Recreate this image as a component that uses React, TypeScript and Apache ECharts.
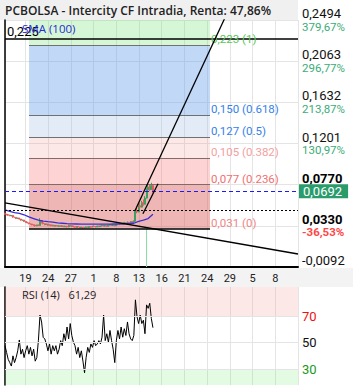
import React, { useEffect, useRef } from 'react';
import * as echarts from 'echarts';

const title = 'PCBOLSA - Intercity CF Intradia, Renta: 47,86%';
const dateLabels = ['19', '24', '27', '1', '8', '13', '16', '21', '24', '29', '5', '8'];
const slotCount = 130;
const firstLabelSlot = 9;
const slotStep = 10;

const priceTicks = [-0.0092, 0.0339, 0.077, 0.1201, 0.1632, 0.2063, 0.2494];
const priceLabels = ['-0,0092', '0,0330', '0,0770', '0,1201', '0,1632', '0,2063', '0,2494'];
const pctLabels = ['', '-36,53%', '', '130,97%', '213,87%', '296,77%', '379,67%'];
const boldTicks = [false, true, true, false, false, false, false];

// [open, close, low, high]
const candles = [
  [0.047, 0.046, 0.0455, 0.0475], [0.046, 0.0455, 0.045, 0.0465], [0.0455, 0.045, 0.0445, 0.046], [0.045, 0.0445, 0.044, 0.0455],
  [0.0445, 0.0448, 0.0438, 0.0452], [0.0448, 0.043, 0.0425, 0.045], [0.043, 0.0428, 0.042, 0.0435], [0.0428, 0.0415, 0.041, 0.043],
  [0.0415, 0.042, 0.041, 0.0425], [0.042, 0.041, 0.0405, 0.0422], [0.041, 0.0398, 0.0392, 0.0412], [0.0398, 0.04, 0.039, 0.0405],
  [0.04, 0.0385, 0.038, 0.0402], [0.0385, 0.0378, 0.037, 0.039], [0.0378, 0.037, 0.0365, 0.038], [0.037, 0.0362, 0.0355, 0.0372],
  [0.0362, 0.0358, 0.035, 0.0365], [0.0358, 0.035, 0.0345, 0.036], [0.035, 0.0345, 0.034, 0.0352], [0.0345, 0.034, 0.0332, 0.0348],
  [0.034, 0.0348, 0.0335, 0.035], [0.0348, 0.0342, 0.0338, 0.0352], [0.0342, 0.0395, 0.034, 0.042], [0.0395, 0.037, 0.0365, 0.04],
  [0.037, 0.036, 0.0355, 0.0375], [0.036, 0.0352, 0.0345, 0.0365], [0.0352, 0.0358, 0.035, 0.0362], [0.0358, 0.0345, 0.034, 0.036],
  [0.0345, 0.035, 0.034, 0.0355], [0.035, 0.034, 0.0335, 0.0352], [0.034, 0.0345, 0.0335, 0.035], [0.0345, 0.0338, 0.033, 0.0348],
  [0.0338, 0.0342, 0.0332, 0.0346], [0.0342, 0.0335, 0.033, 0.0345], [0.0335, 0.034, 0.0328, 0.0345], [0.034, 0.0333, 0.0328, 0.0342],
  [0.0333, 0.0338, 0.033, 0.0342], [0.0338, 0.033, 0.0325, 0.034], [0.033, 0.0335, 0.0325, 0.0338], [0.0335, 0.0328, 0.0322, 0.0338],
  [0.0328, 0.0345, 0.0325, 0.0352], [0.0345, 0.0335, 0.033, 0.0348], [0.0335, 0.0338, 0.0328, 0.0342], [0.0338, 0.033, 0.0325, 0.034],
  [0.033, 0.0325, 0.032, 0.0332], [0.0325, 0.0332, 0.032, 0.0335], [0.0332, 0.0326, 0.032, 0.0335], [0.0326, 0.032, 0.0315, 0.0328],
  [0.032, 0.0324, 0.0315, 0.0328], [0.0324, 0.0318, 0.0312, 0.0326], [0.0318, 0.0322, 0.0312, 0.0325], [0.0322, 0.0328, 0.0318, 0.0332],
  [0.0328, 0.0322, 0.0318, 0.033], [0.0322, 0.033, 0.032, 0.0335], [0.033, 0.0325, 0.032, 0.0333], [0.0325, 0.0335, 0.0322, 0.034],
  [0.0335, 0.0332, 0.0326, 0.0342], [0.0332, 0.0328, 0.0322, 0.0336], [0.0328, 0.0336, 0.0325, 0.034], [0.0336, 0.033, 0.0326, 0.034],
  [0.033, 0.0338, 0.0328, 0.0342], [0.0338, 0.0345, 0.0332, 0.035], [0.0345, 0.0336, 0.0332, 0.0348], [0.0336, 0.0342, 0.0332, 0.0346],
  [0.0342, 0.0335, 0.033, 0.0345], [0.0335, 0.0345, 0.0332, 0.035], [0.0345, 0.035, 0.034, 0.0358], [0.035, 0.0342, 0.0338, 0.0355],
  [0.0342, 0.0348, 0.0338, 0.0352], [0.0348, 0.034, 0.0335, 0.035], [0.034, 0.0355, 0.0338, 0.036], [0.0355, 0.035, 0.0345, 0.036],
  [0.035, 0.036, 0.0346, 0.0365], [0.036, 0.0352, 0.0348, 0.0365], [0.0352, 0.0365, 0.035, 0.037], [0.0365, 0.0372, 0.036, 0.038],
  [0.0372, 0.0362, 0.0358, 0.0376], [0.0362, 0.0375, 0.036, 0.0385], [0.0375, 0.037, 0.0365, 0.038], [0.037, 0.0382, 0.0366, 0.0388],
  [0.0382, 0.0378, 0.037, 0.039], [0.0378, 0.039, 0.0372, 0.0395], [0.039, 0.05, 0.0385, 0.0515], [0.05, 0.0485, 0.047, 0.0525],
  [0.0485, 0.055, 0.048, 0.057], [0.055, 0.0535, 0.052, 0.058], [0.0535, 0.058, 0.053, 0.06], [0.058, 0.0565, 0.055, 0.0615],
  [0.0565, 0.063, 0.056, 0.065], [0.063, 0.0715, 0.0625, 0.073], [0.0715, 0.0745, 0.07, 0.077], [0.0745, 0.072, 0.0705, 0.0775],
  [0.072, 0.076, 0.0715, 0.079], [0.076, 0.0692, 0.0685, 0.0775],
];

const smaStep = 3;
const sma100 = [
  0.0507, 0.049, 0.0478, 0.0469, 0.0455, 0.0432, 0.0415, 0.0398, 0.0388, 0.0382, 0.0378, 0.037, 0.0366, 0.0362, 0.0359, 0.0358,
  0.0357, 0.0356, 0.0356, 0.0356, 0.0356, 0.0356, 0.0357, 0.0358, 0.0359, 0.0361, 0.0362, 0.0366, 0.0385, 0.0398, 0.0415, 0.0461,
];

const rsi14 = [
  47.7, 42.6, 37.4, 34.9, 32.3, 40, 34.9, 38.7, 43.8, 52,
  41.3, 45, 38.7, 43.8, 47.7, 41.3, 46.4, 40, 45, 36,
  38.7, 51.5, 70.8, 65.6, 54, 52.8, 49, 43.8, 49, 41.3,
  47.7, 43.8, 47.7, 41.3, 45, 51.5, 47.7, 56.7, 51.5, 61.8,
  52.8, 64.4, 55.4, 50.3, 47.7, 41.3, 46.4, 38.7, 43.8, 36,
  27.2, 38.7, 46.4, 42.6, 49, 46.4, 51.5, 47.7, 49, 51.5,
  49, 54.1, 70.8, 51.5, 56.7, 50.3, 59.2, 51.5, 45, 34.9,
  51.5, 59.2, 52.8, 61.8, 54.1, 60.5, 55.4, 65.6, 56.7, 52.8,
  51.5, 55.4, 82.3, 69.5, 64.4, 70.8, 64.4, 66.9, 56.7, 78.5,
  75.9, 79.7, 68.2, 61.299,
];
const rsiLevels = [30, 50, 70];
const rsiLevelColors = ['#1a9a1a', '#111111', '#ee1111'];

const volume = [[89, 15.4]];

const lastPrice = 0.0692;
const prevClose = 0.0468;
const levelLine = 0.225;

const fibLevels = [0.031, 0.077, 0.105, 0.127, 0.15, 0.223];
const fibRatios = ['0', '0.236', '0.382', '0.5', '0.618', '1'];
const fibStartBar = 15.1;
const fibEndBar = 128.9;
const fibLabelColors = ['#ef8585', '#f07070', '#f5a0a0', '#3582ea', '#3582ea', '#58c858'];
const fibLineColors = ['#000000', '#806a6a', '#806a6a', '#707070', '#707070', '#707070'];
const fibZoneColors = [
  'rgba(219,93,93,0.45)', 'rgba(248,108,108,0.3)', 'rgba(245,140,140,0.2)',
  'rgba(162,188,228,0.3)', 'rgba(102,157,235,0.4)', 'rgba(115,228,115,0.3)',
];

const trendDown = [[0, 0.058], [184.2, 0.0044]];
const channelA = [[81.7, 0.0496], [140.6, 0.26]];
const channelB = [[86.7, 0.0465], [96.2, 0.078]];

const X_MAX = 184.2;
const Y_MIN = -0.0092;
const Y_MAX = 0.2494;
const Y_STEP = 0.0431;
const RSI_MIN = 18;
const RSI_MAX = 92;

const fmt = (v: number, d: number) => v.toFixed(d).replace('.', ',');
const fmtTrunc = (v: number, d: number) => fmt(Math.floor(v * 10 ** d) / 10 ** d, d);

export default function App() {
  const ref = useRef<HTMLDivElement>(null);
  useEffect(() => {
    if (!ref.current) return;
    const chart = echarts.init(ref.current, undefined, { renderer: 'svg' });
    const cats = Array.from({ length: slotCount }, (_, i) => String(i));
    const isGrid = (i: number) => i === 0 || (i >= firstLabelSlot && (i - firstLabelSlot) % slotStep === 0);
    const labelFor = (i: number) => {
      if (i < firstLabelSlot || (i - firstLabelSlot) % slotStep !== 0) return '';
      return dateLabels[(i - firstLabelSlot) / slotStep] ?? '';
    };
    const nearestTick = (v: number) => {
      let best = 0;
      priceTicks.forEach((t, j) => { if (Math.abs(t - v) < Math.abs(priceTicks[best] - v)) best = j; });
      return best;
    };
    const gridColor = '#e4e4e4';
    const fibZones = fibLevels.map((lo, k) => [
      { xAxis: fibStartBar, yAxis: lo, itemStyle: { color: fibZoneColors[k] } },
      { xAxis: fibEndBar, yAxis: k < fibLevels.length - 1 ? fibLevels[k + 1] : Y_MAX },
    ]);
    const fibLines = fibLevels.map((lv, k) => [
      {
        coord: [fibStartBar, lv],
        lineStyle: { color: fibLineColors[k], width: k === 0 ? 1.5 : 1, type: 'solid' },
        label: {
          show: true, position: 'end', distance: 1, align: 'left', verticalAlign: 'bottom',
          color: fibLabelColors[k], fontSize: 11.5, fontFamily: 'Roboto',
          formatter: `${fmt(lv, 3)} (${fibRatios[k]})`,
        },
      },
      { coord: [fibEndBar, lv] },
    ]);
    const rsiLast = rsi14[rsi14.length - 1];

    chart.setOption({
      animation: false,
      backgroundColor: '#ffffff',
      textStyle: { fontFamily: 'Roboto' },
      grid: [
        { left: 5, top: 20, width: 293, height: 247 },
        { left: 5, top: 287, width: 293, height: 98 },
      ],
      xAxis: [
        { type: 'value', gridIndex: 0, min: 0, max: X_MAX, show: false, position: 'bottom' },
        {
          type: 'category', gridIndex: 0, data: cats, boundaryGap: false, position: 'bottom',
          axisLine: { show: true, lineStyle: { color: '#000', width: 2 } },
          axisTick: { show: false },
          axisLabel: {
            interval: (i: number) => labelFor(i) !== '', formatter: (_v: string, i: number) => labelFor(i),
            color: '#222', fontSize: 11, margin: 6, fontFamily: 'Roboto',
          },
          splitLine: { show: true, interval: (i: number) => isGrid(i), lineStyle: { color: gridColor, width: 1 } },
        },
        { type: 'value', gridIndex: 1, min: 0, max: X_MAX, show: false, position: 'bottom' },
        {
          type: 'category', gridIndex: 1, data: cats, boundaryGap: false, position: 'bottom',
          axisLine: { show: false }, axisTick: { show: false }, axisLabel: { show: false },
          splitLine: { show: true, interval: (i: number) => isGrid(i), lineStyle: { color: gridColor, width: 1 } },
        },
      ],
      yAxis: [
        {
          type: 'value', gridIndex: 0, position: 'right', min: Y_MIN, max: Y_MAX, interval: Y_STEP,
          axisLine: { show: true, lineStyle: { color: '#000', width: 1.5 } },
          axisTick: { show: false },
          splitLine: { show: true, lineStyle: { color: gridColor, width: 1 } },
          axisLabel: {
            margin: 4,
            formatter: (v: number) => {
              const j = nearestTick(v);
              const pct = pctLabels[j];
              const pStyle = boldTicks[j] ? 'pb' : 'p';
              const qStyle = pct.startsWith('-') ? 'qn' : 'q';
              return `{${pStyle}|${priceLabels[j]}}\n{${qStyle}|${pct || ' '}}`;
            },
            rich: {
              p: { fontSize: 13, color: '#111', fontFamily: 'Roboto', lineHeight: 13 },
              pb: { fontSize: 13, color: '#000', fontFamily: 'Roboto', fontWeight: 'bold', lineHeight: 13 },
              q: { fontSize: 11.5, color: '#3aac78', fontFamily: 'Roboto', lineHeight: 13 },
              qn: { fontSize: 11.5, color: '#ff4646', fontFamily: 'Roboto', fontWeight: 'bold', lineHeight: 13 },
            },
          },
        },
        { type: 'value', gridIndex: 0, position: 'left', min: 0, max: 100, show: false },
        {
          type: 'value', gridIndex: 1, position: 'right', min: RSI_MIN, max: RSI_MAX,
          axisLine: { show: true, lineStyle: { color: '#000', width: 1.5 } },
          axisTick: { show: false }, axisLabel: { show: false }, splitLine: { show: false },
        },
      ],
      series: [
        {
          name: 'fib', type: 'line', xAxisIndex: 0, yAxisIndex: 0, data: [], z: 1, silent: true,
          markArea: { silent: true, data: fibZones },
          markLine: { silent: true, symbol: 'none', data: fibLines },
        },
        {
          name: 'volume', type: 'bar', xAxisIndex: 0, yAxisIndex: 1, barWidth: 1, z: 2,
          itemStyle: { color: '#8ad8a2' }, data: volume,
        },
        {
          name: 'price', type: 'candlestick', xAxisIndex: 0, yAxisIndex: 0, z: 3, barWidth: 1.4,
          dimensions: ['x', 'open', 'close', 'lowest', 'highest'],
          encode: { x: 'x', y: ['open', 'close', 'lowest', 'highest'] },
          data: candles.map((c, i) => [i, c[0], c[1], c[2], c[3]]),
          itemStyle: { color: '#3f9f5e', color0: '#e25b5b', borderColor: '#3f9f5e', borderColor0: '#e25b5b', borderWidth: 1 },
          markLine: {
            silent: true, symbol: 'none',
            data: [
              {
                yAxis: prevClose, lineStyle: { color: '#000', type: [2, 2], width: 1 }, label: { show: false },
              },
              {
                yAxis: levelLine, lineStyle: { color: '#000', type: 'solid', width: 1.5 },
                label: {
                  show: true, position: 'insideStartTop', formatter: fmt(levelLine, 3), color: '#000',
                  fontSize: 13, fontFamily: 'Roboto', distance: [2, 1],
                },
              },
              {
                yAxis: lastPrice, lineStyle: { color: '#1a1aff', type: [4, 3], width: 1 },
                label: {
                  show: true, position: 'end', formatter: fmt(lastPrice, 4), color: '#fff', backgroundColor: '#2a9c6c',
                  fontSize: 13, fontFamily: 'Roboto', padding: [0, 6, 0, 4], lineHeight: 14, distance: 1,
                },
              },
            ],
          },
        },
        {
          name: 'SMA (100)', type: 'line', xAxisIndex: 0, yAxisIndex: 0, z: 4, symbol: 'none',
          lineStyle: { color: '#3b2fd2', width: 1.3 },
          data: sma100.map((v, k) => [k * smaStep, v]),
        },
        ...[trendDown, channelA, channelB].map((seg) => ({
          type: 'line', xAxisIndex: 0, yAxisIndex: 0, z: 5, symbol: 'none', clip: true,
          lineStyle: { color: '#000', width: 1.3 }, data: seg,
        })),
        {
          name: 'RSI (14)', type: 'line', xAxisIndex: 2, yAxisIndex: 2, z: 4, symbol: 'none',
          lineStyle: { color: '#000', width: 1 },
          data: rsi14.map((v, i) => [i, v]),
          markArea: {
            silent: true,
            data: [
              [{ yAxis: rsiLevels[2], itemStyle: { color: 'rgba(247,163,163,0.25)' } }, { yAxis: RSI_MAX }],
              [{ yAxis: RSI_MIN, itemStyle: { color: 'rgba(110,235,110,0.2)' } }, { yAxis: rsiLevels[0] }],
            ],
          },
          markLine: {
            silent: true, symbol: 'none',
            data: [
              ...rsiLevels.map((lv, k) => ({
                yAxis: lv, lineStyle: { color: gridColor, type: 'solid', width: 1 },
                label: { show: true, position: 'end', formatter: String(lv), color: rsiLevelColors[k], fontSize: 13, fontFamily: 'Roboto', distance: 4 },
              })),
              {
                yAxis: rsiLast, lineStyle: { opacity: 0 },
                label: {
                  show: true, position: 'end', formatter: fmt(rsiLast, 3), color: '#fff', backgroundColor: '#000',
                  fontSize: 13, fontFamily: 'Roboto', padding: [1, 6, 1, 4], lineHeight: 14, distance: 1,
                },
              },
            ],
          },
        },
      ],
      graphic: [
        { type: 'rect', z: -10, shape: { x: 0, y: 0, width: 298, height: 20 }, style: { fill: '#f0f0f0' } },
        { type: 'rect', z: -10, shape: { x: 0, y: 268, width: 353, height: 19 }, style: { fill: '#f3f3f3' } },
        {
          type: 'text', x: 5, y: 4, z: 10,
          style: { text: title, fill: '#222', fontSize: 12, fontWeight: 600, fontFamily: 'Open Sans' },
        },
        {
          type: 'text', x: 22, y: 22, z: 10,
          style: { text: 'SMA (100)', fill: '#2a2ad8', fontSize: 11.5, fontFamily: 'Open Sans' },
        },
        {
          type: 'text', x: 22, y: 289, z: 10,
          style: { text: `RSI (14)   ${fmtTrunc(rsiLast, 2)}`, fill: '#222', fontSize: 11, fontFamily: 'Open Sans' },
        },
      ],
    });
    return () => chart.dispose();
  }, []);
  return <div ref={ref} style={{ position: 'absolute', left: 0, top: 0, width: 353, height: 390 }} />;
}
